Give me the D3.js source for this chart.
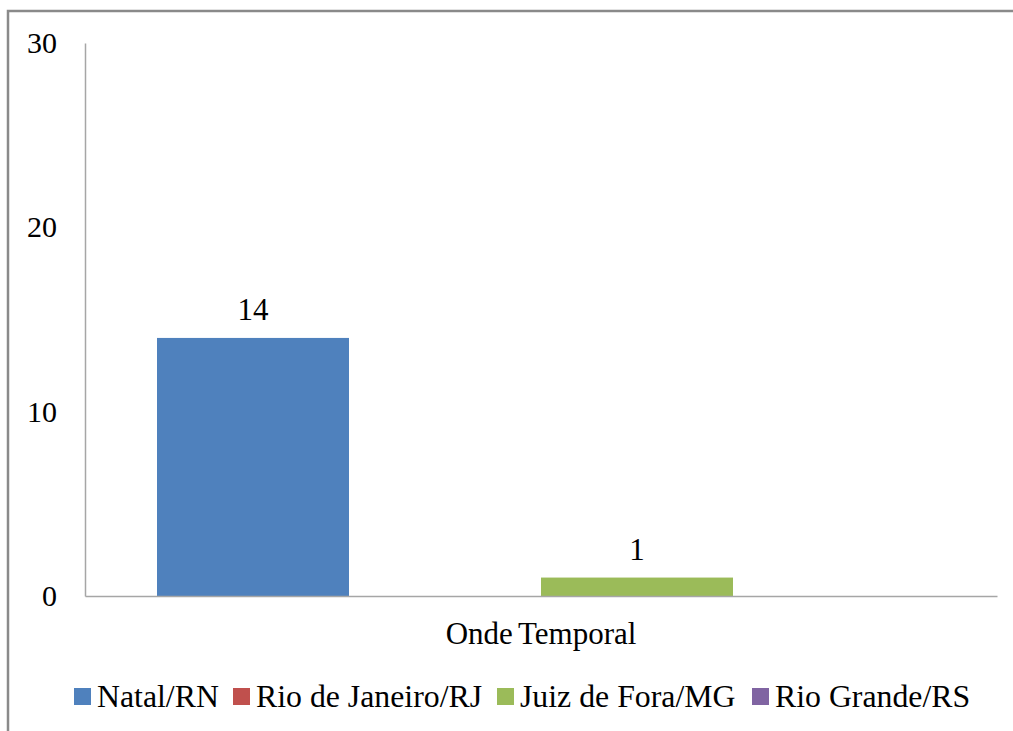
<!DOCTYPE html>
<html><head><meta charset="utf-8">
<script src="https://cdn.jsdelivr.net/npm/d3@7"></script>
<style>html,body{margin:0;padding:0;background:#fff;}svg{display:block;}</style>
</head><body>
<svg id="c" width="1013" height="731"></svg>
<script>
const categories = ["Onde Temporal"];
const seriesNames = ["Natal/RN", "Rio de Janeiro/RJ", "Juiz de Fora/MG", "Rio Grande/RS"];
const seriesValues = [14, 0, 1, 0];
const seriesColors = ["#4F81BD", "#C0504D", "#9BBB59", "#8064A2"];
const yTicks = [0, 10, 20, 30];

const svg = d3.select("#c");
const font = "'Liberation Serif','Times New Roman',serif";

// outer frame
svg.append("rect").attr("x", 8).attr("y", 11).attr("width", 1100).attr("height", 800)
  .attr("fill", "#fff").attr("stroke", "#8a8a8a").attr("stroke-width", 2.5);

const plotL = 85, plotR = 997, plotT = 43, plotB = 596;
const y = d3.scaleLinear().domain([0, 30]).range([plotB, plotT]);
const x0 = d3.scaleBand().domain(categories).range([plotL, plotR]).paddingInner(0).paddingOuter(0);
const x1 = d3.scaleBand().domain(seriesNames).range([72, x0.bandwidth() - 72]).padding(0);

// bars
const g = svg.append("g");
categories.forEach(cat => {
  seriesNames.forEach((s, i) => {
    const v = seriesValues[i];
    const bx = x0(cat) + x1(s);
    g.append("rect").attr("x", bx).attr("y", y(v)).attr("width", x1.bandwidth())
      .attr("height", y(0) - y(v)).attr("fill", seriesColors[i]);
    if (v > 0) {
      g.append("text").attr("x", bx + x1.bandwidth() / 2).attr("y", y(v) - 18)
        .attr("text-anchor", "middle").attr("font-family", font).attr("font-size", 31)
        .attr("fill", "#000").text(v);
    }
  });
});

// y axis
const yAxis = d3.axisLeft(y).tickValues(yTicks).tickSize(0).tickPadding(28);
const ya = svg.append("g").attr("transform", `translate(${plotL},0)`).call(yAxis);
ya.select(".domain").attr("stroke", "#a6a6a6").attr("stroke-width", 1.5);
ya.selectAll("text").attr("font-family", font).attr("font-size", 30).attr("fill", "#000");

// x axis
const xAxis = d3.axisBottom(x0).tickSize(0).tickPadding(26);
const xa = svg.append("g").attr("transform", `translate(0,${plotB})`).call(xAxis);
xa.select(".domain").attr("stroke", "#a6a6a6").attr("stroke-width", 1.5);
xa.selectAll("text").attr("font-family", font).attr("font-size", 31).attr("fill", "#000")
  .attr("dy", "0.71em").attr("word-spacing", "-2px");

// legend
const legendX = [74, 233, 497, 752];
const leg = svg.append("g");
seriesNames.forEach((s, i) => {
  leg.append("rect").attr("x", legendX[i]).attr("y", 688).attr("width", 17).attr("height", 17)
    .attr("fill", seriesColors[i]);
  leg.append("text").attr("x", legendX[i] + 23).attr("y", 707).attr("font-family", font)
    .attr("font-size", 31.8).attr("fill", "#000").text(s);
});
</script>
</body></html>
